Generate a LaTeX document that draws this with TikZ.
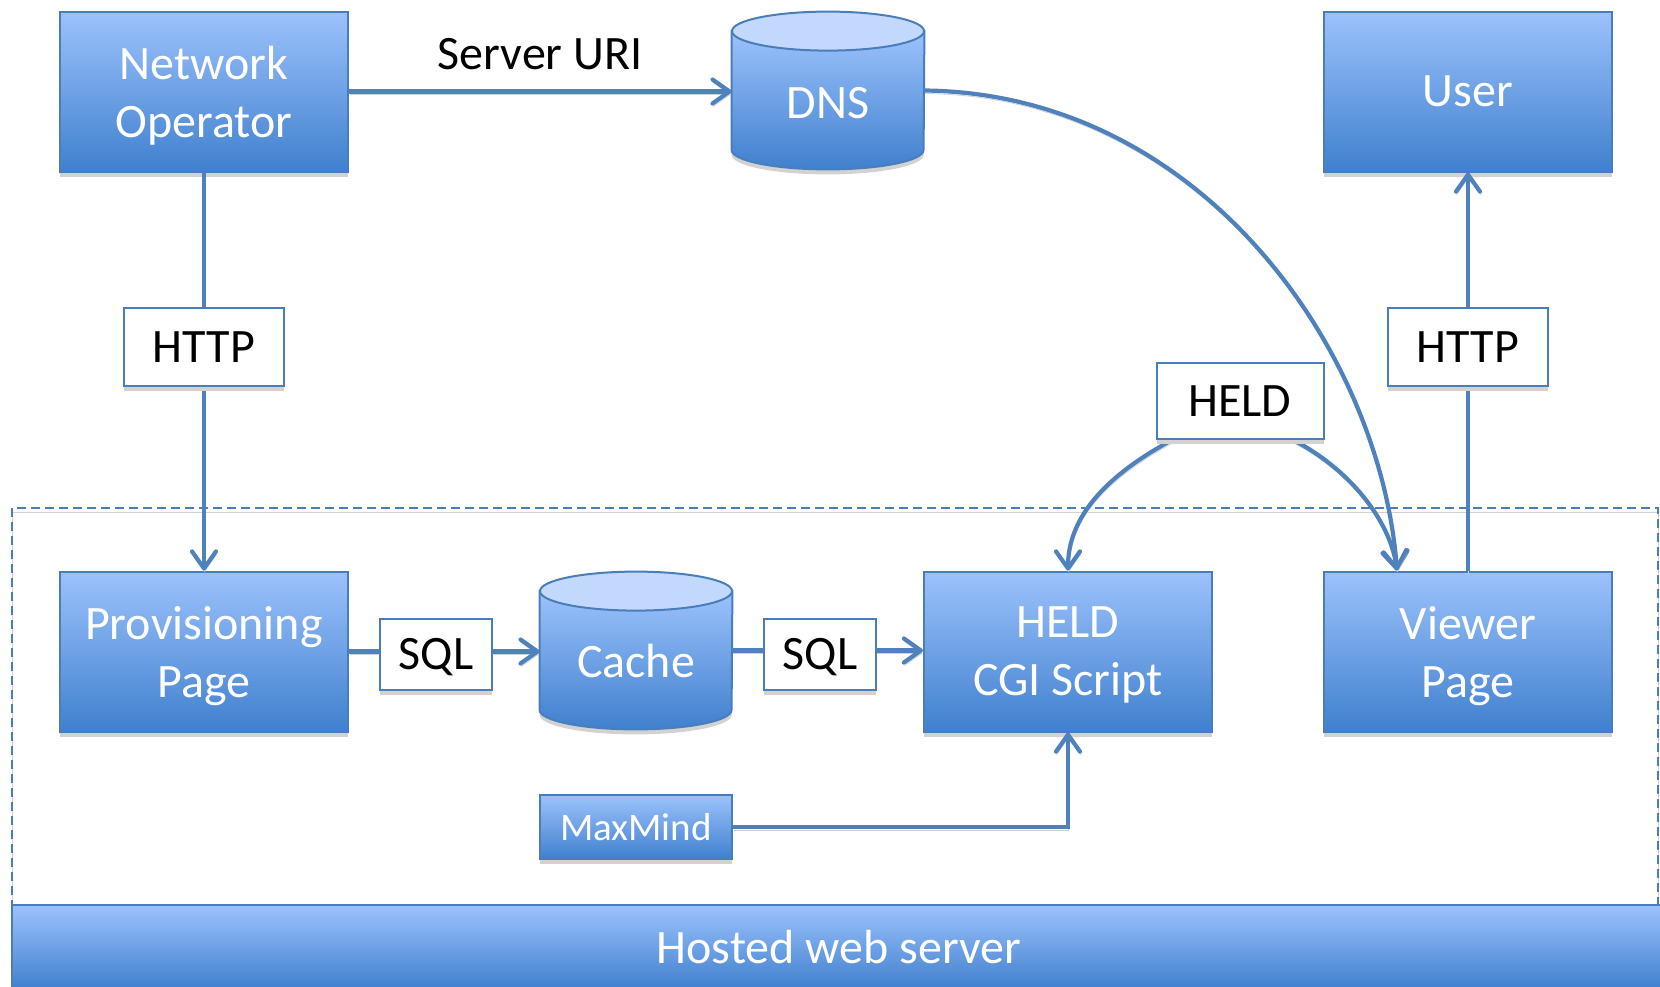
\documentclass[tikz,border=0pt]{standalone}
\usepackage{fontspec}
\setmainfont{Carlito}
\usetikzlibrary{arrows.meta,calc,shadows}

\definecolor{boxtop}{RGB}{156,194,252}
\definecolor{boxbot}{RGB}{64,128,206}
\definecolor{edgeblue}{RGB}{74,126,187}
\definecolor{linkblue}{RGB}{79,129,189}
\definecolor{cyltop}{RGB}{194,217,253}
\definecolor{shadowgray}{RGB}{210,210,210}

\tikzset{
  bigfont/.style={font=\fontsize{24}{29}\selectfont},
  bluebox/.style={rectangle, draw=edgeblue, line width=1pt,
    top color=boxtop, bottom color=boxbot, text=white, align=center,
    bigfont, minimum width=144pt, minimum height=80pt, inner sep=0pt,
    text depth=0pt,
    general shadow={fill=shadowgray, shadow yshift=-2.5pt}},
  tagbox/.style={rectangle, draw=edgeblue, line width=1pt, fill=white,
    text=black, bigfont, inner sep=0pt, text depth=0pt,
    general shadow={fill=shadowgray, shadow yshift=-2.5pt}},
  drumspot/.style={rectangle, minimum width=96pt, minimum height=78.5pt, inner sep=0pt},
  drumtext/.style={text=white, bigfont, inner sep=0pt},
  link/.style={draw=linkblue, line width=2.1pt,
    preaction={draw=shadowgray, transform canvas={xshift=0.3pt, yshift=-1.5pt}}},
  arrowed/.style={-{Straight Barb[length=8.5pt, width=12pt, round]}},
  zoneline/.style={draw=edgeblue, line width=0.9pt, dash pattern=on 4.5pt off 2.5pt,
    preaction={draw=shadowgray, transform canvas={yshift=-2pt}}}
}

% database drum drawn over an invisible placeholder node
\newcommand\drawdrum[1]{%
  \path[fill=shadowgray] ([yshift=-12.25pt]#1.north west) -- ([yshift=7.25pt]#1.south west)
    arc[start angle=180, end angle=360, x radius=48pt, y radius=9.75pt]
    -- ([yshift=-12.25pt]#1.north east) -- cycle;
  \path[draw=edgeblue, line width=1pt, top color=boxtop, bottom color=boxbot]
    ([yshift=-9.75pt]#1.north west) -- ([yshift=9.75pt]#1.south west)
    arc[start angle=180, end angle=360, x radius=48pt, y radius=9.75pt]
    -- ([yshift=-9.75pt]#1.north east) -- cycle;
  \path[draw=edgeblue, line width=1pt, fill=cyltop]
    ([yshift=-9.75pt]#1.north) ellipse[x radius=48pt, y radius=9.75pt];
}

\begin{document}
\begin{tikzpicture}[x=0.5pt, y=-0.5pt]
\useasboundingbox (0,0) rectangle (1660,986);
\fill[white] (0,0) rectangle (1660,986);

% hosting zone and server bar
\draw[zoneline] (12,508) rectangle (1658,906);
\node[rectangle, draw=edgeblue, line width=1pt, top color=boxtop, bottom color=boxbot,
  text=white, bigfont, minimum width=827pt, minimum height=42pt, inner sep=0pt]
  (host) at (839,947) {Hosted web server};

% main boxes
\node[bluebox] (no) at (204,91.5) {Network\\Operator};
\node[bluebox] (user) at (1468,91.5) {User};
\node[bluebox] (prov) at (204,651.5) {Provisioning\\Page};
\node[bluebox] (cgi) at (1068,651.5) {HELD\\CGI Script};
\node[bluebox] (viewer) at (1468,651.5) {Viewer\\Page};
\node[bluebox, minimum width=96pt, minimum height=32pt,
  font=\fontsize{19.5}{23}\selectfont] (mm) at (636,827) {MaxMind};

% databases
\node[drumspot] (dns) at (828,90.5) {};
\drawdrum{dns}
\node[drumtext] (dnstext) at ($(dns)+(0,13)$) {DNS};
\node[drumspot] (cache) at (636,650.5) {};
\drawdrum{cache}
\node[drumtext] (cachetext) at ($(cache)+(0,10)$) {Cache};

% connector end points
\coordinate (vin) at ($(viewer.north west)+(74,0)$);

% connectors
\draw[link, arrowed] (no.east) -- (no.east -| dns.west);
\draw[link, arrowed] (no.south) -- (prov.north);
\draw[link, arrowed] (prov.east) -- (prov.east -| cache.west);
\draw[link, arrowed] (cache.east) -- (cache.east -| cgi.west);
\draw[link, arrowed] (mm.east) -| (cgi.south);
\draw[link, arrowed] (viewer.north) -- (user.south);
\draw[link, arrowed] (dns.east) .. controls +(276,3) and +(-17,-221) .. (vin);

% protocol tags
\node[text=black, bigfont, inner sep=0pt] (uri) at (540,54) {Server URI};
\node[tagbox, minimum width=80pt, minimum height=39pt] (httpl) at (204,347) {HTTP};
\node[tagbox, minimum width=80pt, minimum height=39pt] (httpr) at (1468,347) {HTTP};
\node[tagbox, minimum width=56pt, minimum height=35.5pt] (sqla) at (436,654) {SQL};
\node[tagbox, minimum width=56pt, minimum height=35.5pt] (sqlb) at (820,654) {SQL};

\coordinate (heldl) at (1172,440);
\coordinate (heldr) at (1293,440);
\draw[link, arrowed] (heldl) .. controls +(-70,38) and +(0,-51) .. (cgi.north);
\draw[link, arrowed] (heldr) .. controls +(55,28) and +(-7,-51) .. (vin);
\node[tagbox, minimum width=83.5pt, minimum height=38pt] (held) at (1240,401) {HELD};
\end{tikzpicture}
\end{document}
